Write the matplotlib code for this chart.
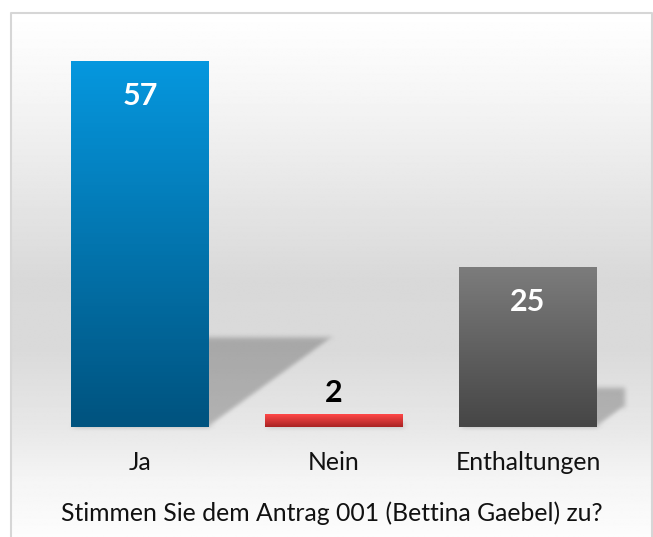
import numpy as np
import matplotlib
matplotlib.use("Agg")
import matplotlib.pyplot as plt
from matplotlib.colors import LinearSegmentedColormap
from matplotlib.patches import Polygon

# Daten
kategorien = ["Ja", "Nein", "Enthaltungen"]
stimmen = [57, 2, 25]
frage = "Stimmen Sie dem Antrag 001 (Bettina Gaebel) zu?"

# Farbverläufe (oben, unten)
verlauf = [("#0697de", "#00537f"), ("#ff4848", "#a82222"), ("#7c7c7c", "#464646")]
label_farbe = ["white", "black", "white"]
label_innen = [True, False, True]

plt.rcParams["font.family"] = ["Lato", "DejaVu Sans"]

W, H = 653, 537
fig = plt.figure(figsize=(W / 100, H / 100), dpi=100)
fig.patch.set_facecolor("white")

# Hintergrund mit grauem Verlauf im Rahmen
bg = fig.add_axes([0, 0, 1, 1])
bg.set_xlim(0, W)
bg.set_ylim(H, 0)
bg.axis("off")
stops_y = np.array([13, 90, 190, 280, 350, 430, 480, 537])
stops_v = np.array([1.0, 0.965, 0.905, 0.85, 0.855, 0.91, 0.96, 0.99])
yy = np.linspace(13, 537, 400)
grad = np.interp(yy, stops_y, stops_v)[:, None]
bg.imshow(np.repeat(grad, 2, axis=1), cmap="gray", vmin=0, vmax=1,
          extent=[11, 652, 537, 13], aspect="auto", interpolation="bilinear")
bg.plot([11, 11, 652, 652], [537, 13, 13, 537], color="#d6d6d6", lw=1.5)


def blur(sigma):
    # einfacher Gauss-Weichzeichner für agg_filter
    def f(im, dpi):
        pad = int(3 * sigma)
        ny, nx, d = im.shape
        src = np.zeros((ny + 2 * pad, nx + 2 * pad, d))
        src[pad:-pad, pad:-pad] = im
        x = np.arange(-pad, pad + 1)
        k = np.exp(-x ** 2 / (2 * sigma ** 2))
        k /= k.sum()
        tmp = np.zeros_like(src)
        p2 = np.pad(src, ((0, 0), (pad, pad), (0, 0)))
        for i, kk in enumerate(k):
            tmp += kk * p2[:, i:i + src.shape[1]]
        out = np.zeros_like(src)
        p3 = np.pad(tmp, ((pad, pad), (0, 0), (0, 0)))
        for i, kk in enumerate(k):
            out += kk * p3[i:i + src.shape[0]]
        return out, -pad, -pad
    return f


ax = fig.add_axes([43 / W, 110 / H, 582 / W, 385 / H])
ax.patch.set_alpha(0)
x = np.arange(len(kategorien))
breite = 0.71
bars = ax.bar(x, stimmen, width=breite, color="none", edgecolor="none", zorder=3)

for i, (b, v) in enumerate(zip(bars, stimmen)):
    x0 = b.get_x()
    x1 = x0 + b.get_width()
    # Schatten: flach nach rechts oben geneigt
    s = v * 0.01125
    hs = v * 0.245
    sh = Polygon([(x0, 0), (x1, 0), (x1 + s, hs), (x0 + s, hs)], closed=True,
                 facecolor="black", alpha=0.23, edgecolor="none", zorder=1)
    sh.set_agg_filter(blur(2.5))
    ax.add_patch(sh)
    cm = LinearSegmentedColormap.from_list("v%d" % i, [verlauf[i][1], verlauf[i][0]])
    img = ax.imshow(np.linspace(0, 1, 100)[:, None], cmap=cm, origin="lower",
                    extent=[x0, x1, 0, v], aspect="auto", zorder=2)
    img.set_clip_path(b)
    if label_innen[i]:
        ax.annotate(str(v), (x[i], v), xytext=(0, -35), textcoords="offset pixels",
                    ha="center", va="center", fontsize=22, fontweight="bold",
                    color=label_farbe[i], zorder=5)
    else:
        ax.annotate(str(v), (x[i], v), xytext=(0, 21), textcoords="offset pixels",
                    ha="center", va="center", fontsize=22, fontweight="bold",
                    color=label_farbe[i], zorder=5)

ax.set_xlim(-0.5, 2.5)
ax.set_ylim(0, 60)
for sp in ax.spines.values():
    sp.set_visible(False)
ax.set_yticks([])
ax.set_xticks(x)
ax.set_xticklabels(kategorien, fontsize=17.8, color="#111111")
ax.tick_params(axis="x", length=0, pad=17)

fig.text(332 / W, (H - 513) / H, frage, ha="center", va="center",
         fontsize=17.8, color="#111111")

fig.savefig("out.png", dpi=100)
